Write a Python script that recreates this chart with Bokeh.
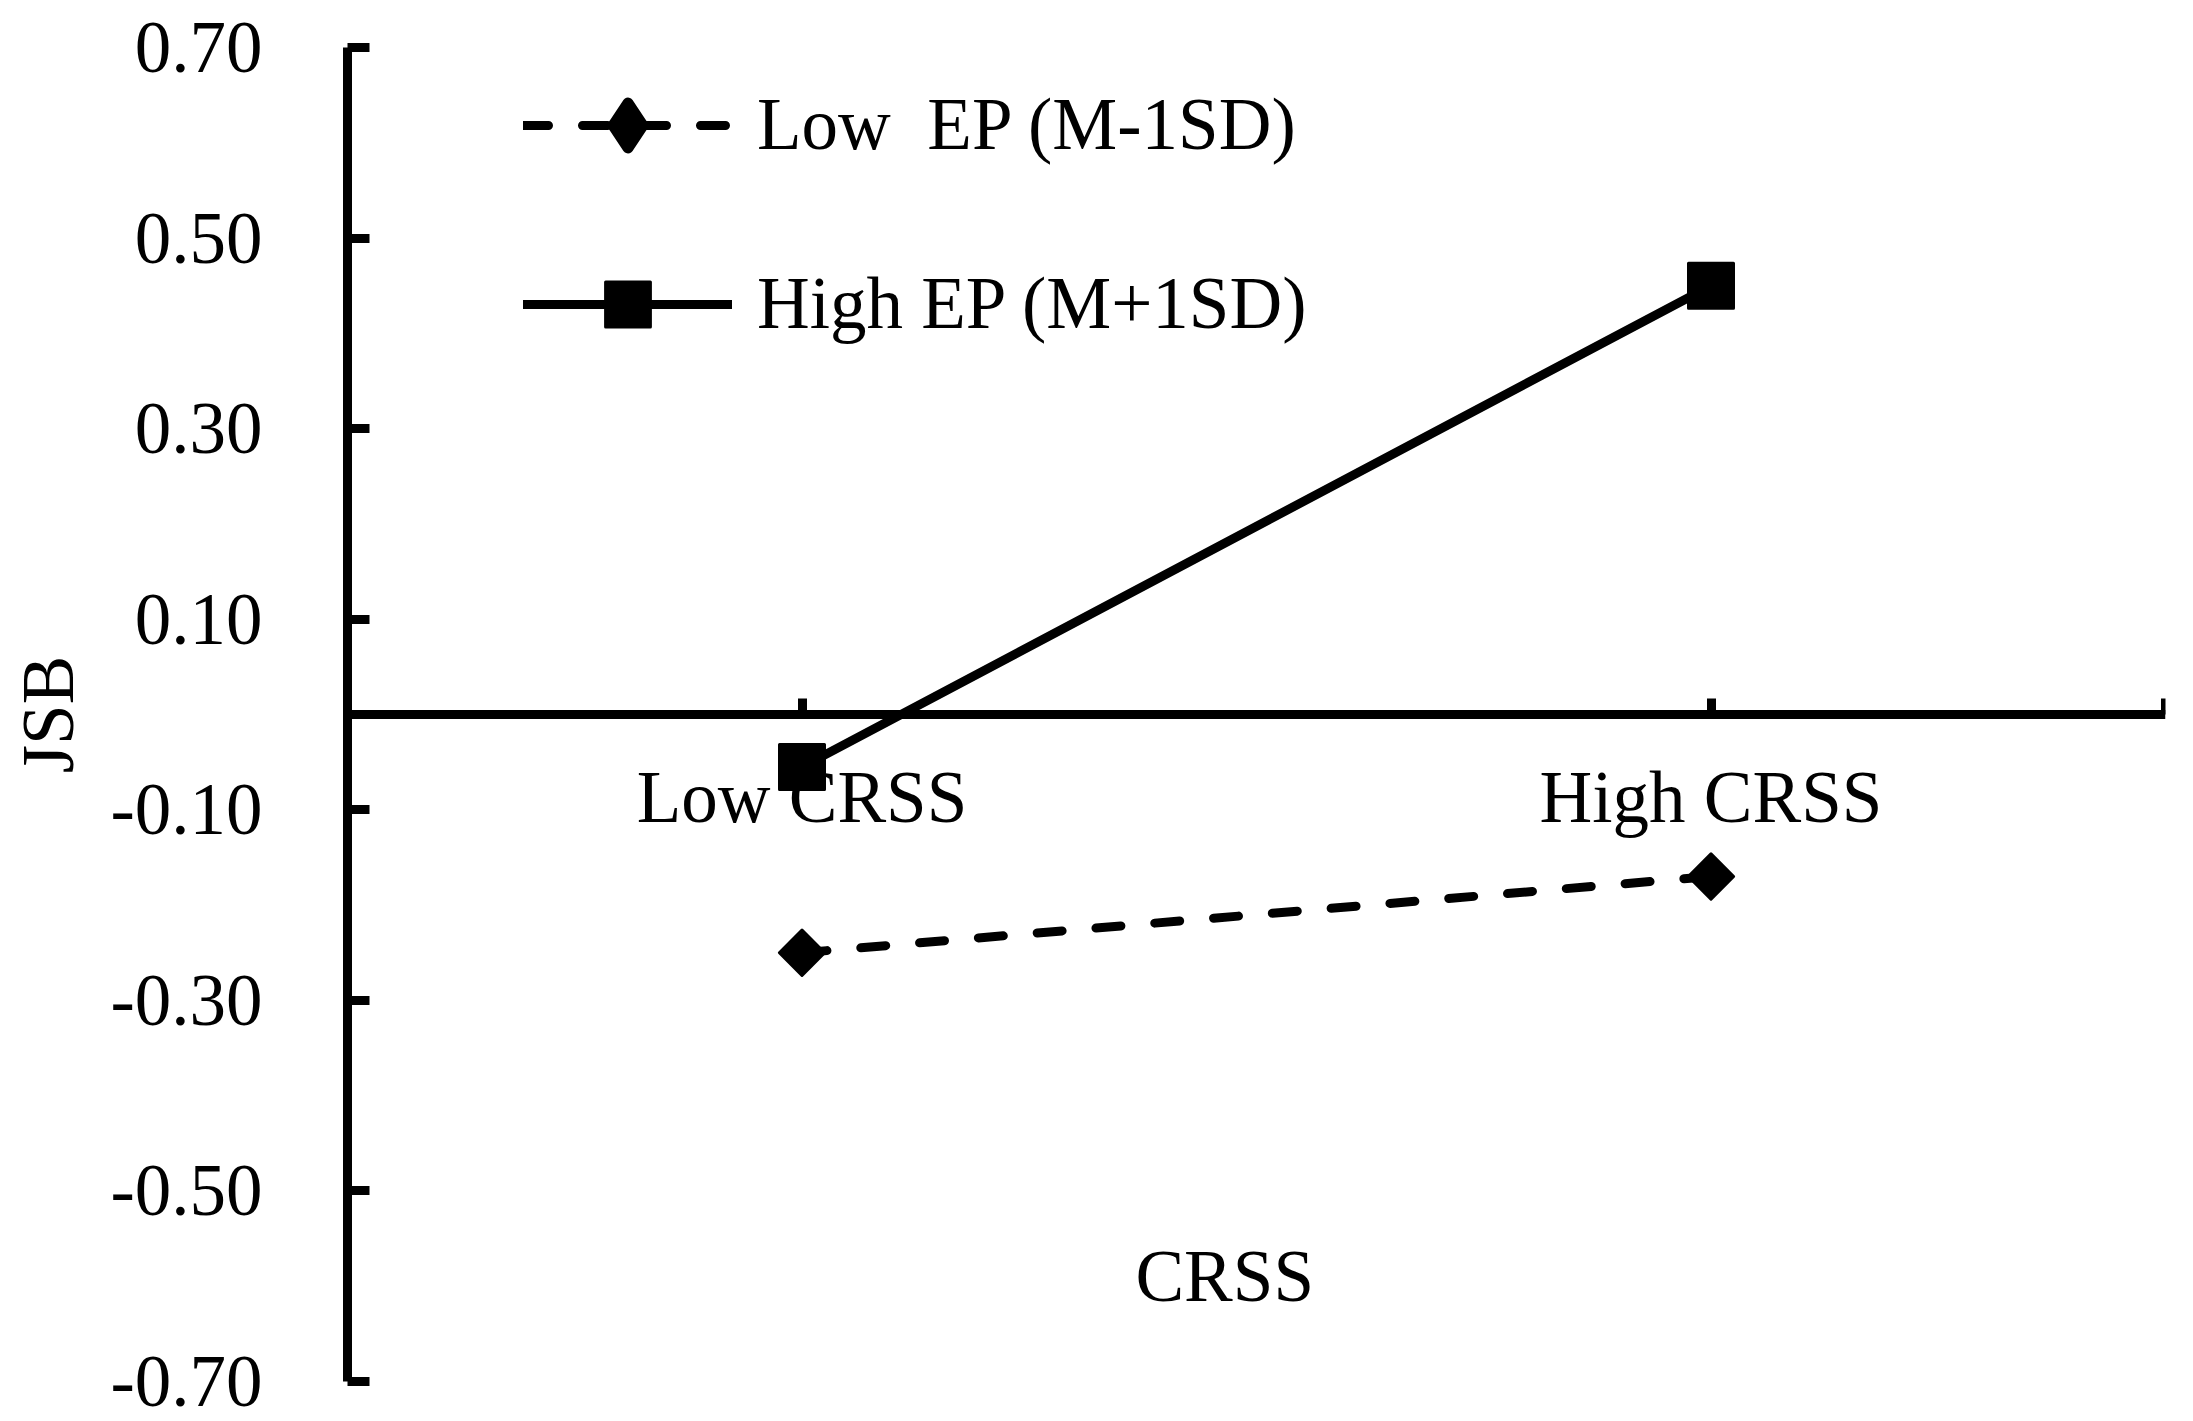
import numpy as np
from bokeh.plotting import figure
from bokeh.models import FixedTicker, Legend, LegendItem, Label, Range1d
from bokeh.embed import file_html
from bokeh.resources import INLINE

# ---- data ----
categories = ["Low CRSS", "High CRSS"]
low_ep = [-0.25, -0.17]
high_ep = [-0.055, 0.45]
series_labels = ["Low  EP (M-1SD)", "High EP (M+1SD)"]
y_ticks = [0.70, 0.50, 0.30, 0.10, -0.10, -0.30, -0.50, -0.70]
y_tick_labels = ["0.70", "0.50", "0.30", "0.10", "-0.10", "-0.30", "-0.50", "-0.70"]
x_title = "CRSS"
y_title = "JSB"

FONT = "Liberation Serif"
FS = "73px"
x_pos = [i + 1 for i in range(len(categories))]
x_end = len(categories) + 0.5

W, H = 2185, 1420
p = figure(width=W, height=H,
           x_range=Range1d(0.5, x_end), y_range=Range1d(-0.7, 0.7),
           output_backend="svg", toolbar_location=None,
           min_border_left=347, min_border_right=W - 347 - 1818,
           min_border_top=47, min_border_bottom=H - 47 - 1334)
p.grid.visible = False
p.outline_line_color = None
p.background_fill_color = "white"
p.border_fill_color = "white"

# y axis
ya = p.yaxis[0]
ya.ticker = FixedTicker(ticks=y_ticks)
ya.major_label_overrides = {t: l for t, l in zip(y_ticks, y_tick_labels)}
ya.axis_line_width = 9
ya.axis_line_color = "black"
ya.major_tick_line_width = 9
ya.major_tick_line_color = "black"
ya.major_tick_in = 22
ya.major_tick_out = 0
ya.minor_tick_line_color = None
ya.major_label_standoff = 85
ya.major_label_text_font = FONT
ya.major_label_text_font_size = FS
ya.major_label_text_color = "black"
ya.axis_label = y_title
ya.axis_label_text_font = FONT
ya.axis_label_text_font_size = FS
ya.axis_label_text_font_style = "normal"
ya.axis_label_text_color = "black"
ya.axis_label_standoff = 18

# x axis drawn at y = 0
xa = p.xaxis[0]
xa.fixed_location = 0
xa.ticker = FixedTicker(ticks=x_pos + [x_end])
ov = {x: c for x, c in zip(x_pos, categories)}
ov[x_end] = ""
xa.major_label_overrides = ov
xa.axis_line_width = 9
xa.axis_line_color = "black"
xa.major_tick_line_width = 9
xa.major_tick_line_color = "black"
xa.major_tick_in = 16
xa.major_tick_out = 0
xa.minor_tick_line_color = None
xa.major_label_standoff = 42
xa.major_label_text_font = FONT
xa.major_label_text_font_size = FS
xa.major_label_text_color = "black"

# series
low_line = p.line(x_pos, low_ep, line_color="black", line_width=9,
                  line_dash="25 34", line_cap="round", line_join="round")
# diamond shape used for the legend key (sits under the plotted markers)
low_key = p.scatter(x_pos, low_ep, marker="diamond", size=18,
                    fill_color="black", line_color="black", line_width=11,
                    line_join="round")
low_pts = p.scatter(x_pos, low_ep, marker="square", angle=np.pi / 4, size=32,
                    fill_color="black", line_color="black", line_width=3,
                    line_join="round")
high_line = p.line(x_pos, high_ep, line_color="black", line_width=9,
                   line_cap="round", line_join="round")
high_pts = p.scatter(x_pos, high_ep, marker="square", size=45,
                     fill_color="black", line_color="black", line_width=3,
                     line_join="round")

# x title
p.add_layout(Label(x=1.465, y=-0.59, text=x_title, text_font=FONT,
                   text_font_size=FS, text_align="center",
                   text_baseline="middle", text_color="black"))

# legend
legend = Legend(items=[LegendItem(label=series_labels[0], renderers=[low_line, low_key]),
                       LegendItem(label=series_labels[1], renderers=[high_line, high_pts])],
                location=(176, 1021), glyph_width=209, glyph_height=112,
                label_height=112, padding=0, spacing=67, margin=0,
                label_standoff=25, label_text_font=FONT,
                label_text_font_size=FS, label_text_color="black",
                border_line_color=None, background_fill_alpha=0)
p.add_layout(legend)

open("out.html", "w").write(file_html(p, INLINE))
